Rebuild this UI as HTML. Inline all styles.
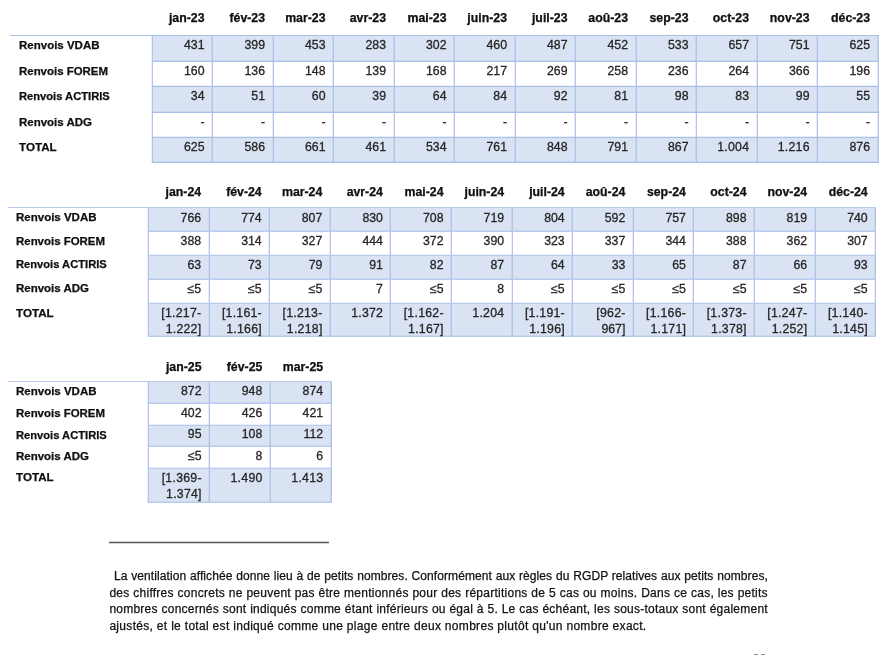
<!DOCTYPE html>
<html><head><meta charset="utf-8"><style>
html,body{margin:0;padding:0;background:#fff;}
body{width:889px;height:655px;position:relative;overflow:hidden;font-family:"Liberation Sans",sans-serif;color:#000;}
#w{position:absolute;left:0;top:0;width:889px;height:655px;will-change:transform;}
.b{position:absolute;}
.t{position:absolute;white-space:pre;color:#111;}
.f{color:#111;-webkit-text-stroke:0.25px #111;}
</style></head><body><div id="w">
<div class="b" style="left:151.5px;top:35px;width:726.0px;height:26px;background:#dae3f3"></div>
<div class="b" style="left:151.5px;top:86px;width:726.0px;height:26px;background:#dae3f3"></div>
<div class="b" style="left:151.5px;top:137px;width:726.0px;height:25px;background:#dae3f3"></div>
<div class="b" style="left:152px;top:35px;width:1px;height:128px;background:#b3c6e8"></div>
<div class="b" style="left:151px;top:35px;width:1px;height:128px;background:rgba(120,150,215,0.18)"></div>
<div class="b" style="left:212px;top:35px;width:1px;height:128px;background:#b3c6e8"></div>
<div class="b" style="left:211px;top:35px;width:1px;height:128px;background:rgba(120,150,215,0.18)"></div>
<div class="b" style="left:273px;top:35px;width:1px;height:128px;background:#b3c6e8"></div>
<div class="b" style="left:272px;top:35px;width:1px;height:128px;background:rgba(120,150,215,0.18)"></div>
<div class="b" style="left:333px;top:35px;width:1px;height:128px;background:#b3c6e8"></div>
<div class="b" style="left:332px;top:35px;width:1px;height:128px;background:rgba(120,150,215,0.18)"></div>
<div class="b" style="left:394px;top:35px;width:1px;height:128px;background:#b3c6e8"></div>
<div class="b" style="left:393px;top:35px;width:1px;height:128px;background:rgba(120,150,215,0.18)"></div>
<div class="b" style="left:454px;top:35px;width:1px;height:128px;background:#b3c6e8"></div>
<div class="b" style="left:453px;top:35px;width:1px;height:128px;background:rgba(120,150,215,0.18)"></div>
<div class="b" style="left:515px;top:35px;width:1px;height:128px;background:#b3c6e8"></div>
<div class="b" style="left:514px;top:35px;width:1px;height:128px;background:rgba(120,150,215,0.18)"></div>
<div class="b" style="left:575px;top:35px;width:1px;height:128px;background:#b3c6e8"></div>
<div class="b" style="left:574px;top:35px;width:1px;height:128px;background:rgba(120,150,215,0.18)"></div>
<div class="b" style="left:636px;top:35px;width:1px;height:128px;background:#b3c6e8"></div>
<div class="b" style="left:635px;top:35px;width:1px;height:128px;background:rgba(120,150,215,0.18)"></div>
<div class="b" style="left:696px;top:35px;width:1px;height:128px;background:#b3c6e8"></div>
<div class="b" style="left:695px;top:35px;width:1px;height:128px;background:rgba(120,150,215,0.18)"></div>
<div class="b" style="left:757px;top:35px;width:1px;height:128px;background:#b3c6e8"></div>
<div class="b" style="left:756px;top:35px;width:1px;height:128px;background:rgba(120,150,215,0.18)"></div>
<div class="b" style="left:817px;top:35px;width:1px;height:128px;background:#b3c6e8"></div>
<div class="b" style="left:816px;top:35px;width:1px;height:128px;background:rgba(120,150,215,0.18)"></div>
<div class="b" style="left:878px;top:35px;width:1px;height:128px;background:#b3c6e8"></div>
<div class="b" style="left:877px;top:35px;width:1px;height:128px;background:rgba(120,150,215,0.18)"></div>
<div class="b" style="left:10px;top:35px;width:868.5px;height:1px;background:#a9bfe6"></div>
<div class="b" style="left:151.5px;top:61px;width:727.0px;height:1px;background:#a9bfe6"></div>
<div class="b" style="left:151.5px;top:60px;width:727.0px;height:1px;background:rgba(120,150,215,0.15)"></div>
<div class="b" style="left:151.5px;top:86px;width:727.0px;height:1px;background:#a9bfe6"></div>
<div class="b" style="left:151.5px;top:85px;width:727.0px;height:1px;background:rgba(120,150,215,0.15)"></div>
<div class="b" style="left:151.5px;top:112px;width:727.0px;height:1px;background:#a9bfe6"></div>
<div class="b" style="left:151.5px;top:111px;width:727.0px;height:1px;background:rgba(120,150,215,0.15)"></div>
<div class="b" style="left:151.5px;top:137px;width:727.0px;height:1px;background:#a9bfe6"></div>
<div class="b" style="left:151.5px;top:136px;width:727.0px;height:1px;background:rgba(120,150,215,0.15)"></div>
<div class="b" style="left:151.5px;top:162px;width:727.0px;height:1px;background:#a9bfe6"></div>
<div class="b" style="left:151.5px;top:161px;width:727.0px;height:1px;background:rgba(120,150,215,0.15)"></div>
<div class="t" style="right:684.50px;top:11.36px;font-size:12.3px;line-height:14.76px;letter-spacing:0px;font-weight:bold;-webkit-text-stroke:0.25px #000;">jan-23</div>
<div class="t" style="right:624.00px;top:11.36px;font-size:12.3px;line-height:14.76px;letter-spacing:0px;font-weight:bold;-webkit-text-stroke:0.25px #000;">fév-23</div>
<div class="t" style="right:563.50px;top:11.36px;font-size:12.3px;line-height:14.76px;letter-spacing:0px;font-weight:bold;-webkit-text-stroke:0.25px #000;">mar-23</div>
<div class="t" style="right:503.00px;top:11.36px;font-size:12.3px;line-height:14.76px;letter-spacing:0px;font-weight:bold;-webkit-text-stroke:0.25px #000;">avr-23</div>
<div class="t" style="right:442.50px;top:11.36px;font-size:12.3px;line-height:14.76px;letter-spacing:0px;font-weight:bold;-webkit-text-stroke:0.25px #000;">mai-23</div>
<div class="t" style="right:382.00px;top:11.36px;font-size:12.3px;line-height:14.76px;letter-spacing:0px;font-weight:bold;-webkit-text-stroke:0.25px #000;">juin-23</div>
<div class="t" style="right:321.50px;top:11.36px;font-size:12.3px;line-height:14.76px;letter-spacing:0px;font-weight:bold;-webkit-text-stroke:0.25px #000;">juil-23</div>
<div class="t" style="right:261.00px;top:11.36px;font-size:12.3px;line-height:14.76px;letter-spacing:0px;font-weight:bold;-webkit-text-stroke:0.25px #000;">aoû-23</div>
<div class="t" style="right:200.50px;top:11.36px;font-size:12.3px;line-height:14.76px;letter-spacing:0px;font-weight:bold;-webkit-text-stroke:0.25px #000;">sep-23</div>
<div class="t" style="right:140.00px;top:11.36px;font-size:12.3px;line-height:14.76px;letter-spacing:0px;font-weight:bold;-webkit-text-stroke:0.25px #000;">oct-23</div>
<div class="t" style="right:79.50px;top:11.36px;font-size:12.3px;line-height:14.76px;letter-spacing:0px;font-weight:bold;-webkit-text-stroke:0.25px #000;">nov-23</div>
<div class="t" style="right:19.00px;top:11.36px;font-size:12.3px;line-height:14.76px;letter-spacing:0px;font-weight:bold;-webkit-text-stroke:0.25px #000;">déc-23</div>
<div class="t" style="left:19.3px;top:38.13px;font-size:11.8px;line-height:14.16px;letter-spacing:0px;font-weight:bold;-webkit-text-stroke:0.25px #000;transform:scaleX(0.975);transform-origin:0 0;">Renvois VDAB</div>
<div class="t" style="left:19.3px;top:64.03px;font-size:11.8px;line-height:14.16px;letter-spacing:0px;font-weight:bold;-webkit-text-stroke:0.25px #000;transform:scaleX(0.97);transform-origin:0 0;">Renvois FOREM</div>
<div class="t" style="left:19.3px;top:89.43px;font-size:11.8px;line-height:14.16px;letter-spacing:0px;font-weight:bold;-webkit-text-stroke:0.25px #000;transform:scaleX(0.946);transform-origin:0 0;">Renvois ACTIRIS</div>
<div class="t" style="left:19.3px;top:114.63px;font-size:11.8px;line-height:14.16px;letter-spacing:0px;font-weight:bold;-webkit-text-stroke:0.25px #000;transform:scaleX(0.974);transform-origin:0 0;">Renvois ADG</div>
<div class="t" style="left:19.3px;top:140.03px;font-size:11.8px;line-height:14.16px;letter-spacing:0px;font-weight:bold;-webkit-text-stroke:0.25px #000;transform:scaleX(0.985);transform-origin:0 0;">TOTAL</div>
<div class="t" style="right:684.50px;top:37.66px;font-size:12.3px;line-height:14.76px;letter-spacing:0px;color:#262626;-webkit-text-stroke:0.3px #262626;">431</div>
<div class="t" style="right:624.00px;top:37.66px;font-size:12.3px;line-height:14.76px;letter-spacing:0px;color:#262626;-webkit-text-stroke:0.3px #262626;">399</div>
<div class="t" style="right:563.50px;top:37.66px;font-size:12.3px;line-height:14.76px;letter-spacing:0px;color:#262626;-webkit-text-stroke:0.3px #262626;">453</div>
<div class="t" style="right:503.00px;top:37.66px;font-size:12.3px;line-height:14.76px;letter-spacing:0px;color:#262626;-webkit-text-stroke:0.3px #262626;">283</div>
<div class="t" style="right:442.50px;top:37.66px;font-size:12.3px;line-height:14.76px;letter-spacing:0px;color:#262626;-webkit-text-stroke:0.3px #262626;">302</div>
<div class="t" style="right:382.00px;top:37.66px;font-size:12.3px;line-height:14.76px;letter-spacing:0px;color:#262626;-webkit-text-stroke:0.3px #262626;">460</div>
<div class="t" style="right:321.50px;top:37.66px;font-size:12.3px;line-height:14.76px;letter-spacing:0px;color:#262626;-webkit-text-stroke:0.3px #262626;">487</div>
<div class="t" style="right:261.00px;top:37.66px;font-size:12.3px;line-height:14.76px;letter-spacing:0px;color:#262626;-webkit-text-stroke:0.3px #262626;">452</div>
<div class="t" style="right:200.50px;top:37.66px;font-size:12.3px;line-height:14.76px;letter-spacing:0px;color:#262626;-webkit-text-stroke:0.3px #262626;">533</div>
<div class="t" style="right:140.00px;top:37.66px;font-size:12.3px;line-height:14.76px;letter-spacing:0px;color:#262626;-webkit-text-stroke:0.3px #262626;">657</div>
<div class="t" style="right:79.50px;top:37.66px;font-size:12.3px;line-height:14.76px;letter-spacing:0px;color:#262626;-webkit-text-stroke:0.3px #262626;">751</div>
<div class="t" style="right:19.00px;top:37.66px;font-size:12.3px;line-height:14.76px;letter-spacing:0px;color:#262626;-webkit-text-stroke:0.3px #262626;">625</div>
<div class="t" style="right:684.50px;top:63.56px;font-size:12.3px;line-height:14.76px;letter-spacing:0px;color:#262626;-webkit-text-stroke:0.3px #262626;">160</div>
<div class="t" style="right:624.00px;top:63.56px;font-size:12.3px;line-height:14.76px;letter-spacing:0px;color:#262626;-webkit-text-stroke:0.3px #262626;">136</div>
<div class="t" style="right:563.50px;top:63.56px;font-size:12.3px;line-height:14.76px;letter-spacing:0px;color:#262626;-webkit-text-stroke:0.3px #262626;">148</div>
<div class="t" style="right:503.00px;top:63.56px;font-size:12.3px;line-height:14.76px;letter-spacing:0px;color:#262626;-webkit-text-stroke:0.3px #262626;">139</div>
<div class="t" style="right:442.50px;top:63.56px;font-size:12.3px;line-height:14.76px;letter-spacing:0px;color:#262626;-webkit-text-stroke:0.3px #262626;">168</div>
<div class="t" style="right:382.00px;top:63.56px;font-size:12.3px;line-height:14.76px;letter-spacing:0px;color:#262626;-webkit-text-stroke:0.3px #262626;">217</div>
<div class="t" style="right:321.50px;top:63.56px;font-size:12.3px;line-height:14.76px;letter-spacing:0px;color:#262626;-webkit-text-stroke:0.3px #262626;">269</div>
<div class="t" style="right:261.00px;top:63.56px;font-size:12.3px;line-height:14.76px;letter-spacing:0px;color:#262626;-webkit-text-stroke:0.3px #262626;">258</div>
<div class="t" style="right:200.50px;top:63.56px;font-size:12.3px;line-height:14.76px;letter-spacing:0px;color:#262626;-webkit-text-stroke:0.3px #262626;">236</div>
<div class="t" style="right:140.00px;top:63.56px;font-size:12.3px;line-height:14.76px;letter-spacing:0px;color:#262626;-webkit-text-stroke:0.3px #262626;">264</div>
<div class="t" style="right:79.50px;top:63.56px;font-size:12.3px;line-height:14.76px;letter-spacing:0px;color:#262626;-webkit-text-stroke:0.3px #262626;">366</div>
<div class="t" style="right:19.00px;top:63.56px;font-size:12.3px;line-height:14.76px;letter-spacing:0px;color:#262626;-webkit-text-stroke:0.3px #262626;">196</div>
<div class="t" style="right:684.50px;top:88.96px;font-size:12.3px;line-height:14.76px;letter-spacing:0px;color:#262626;-webkit-text-stroke:0.3px #262626;">34</div>
<div class="t" style="right:624.00px;top:88.96px;font-size:12.3px;line-height:14.76px;letter-spacing:0px;color:#262626;-webkit-text-stroke:0.3px #262626;">51</div>
<div class="t" style="right:563.50px;top:88.96px;font-size:12.3px;line-height:14.76px;letter-spacing:0px;color:#262626;-webkit-text-stroke:0.3px #262626;">60</div>
<div class="t" style="right:503.00px;top:88.96px;font-size:12.3px;line-height:14.76px;letter-spacing:0px;color:#262626;-webkit-text-stroke:0.3px #262626;">39</div>
<div class="t" style="right:442.50px;top:88.96px;font-size:12.3px;line-height:14.76px;letter-spacing:0px;color:#262626;-webkit-text-stroke:0.3px #262626;">64</div>
<div class="t" style="right:382.00px;top:88.96px;font-size:12.3px;line-height:14.76px;letter-spacing:0px;color:#262626;-webkit-text-stroke:0.3px #262626;">84</div>
<div class="t" style="right:321.50px;top:88.96px;font-size:12.3px;line-height:14.76px;letter-spacing:0px;color:#262626;-webkit-text-stroke:0.3px #262626;">92</div>
<div class="t" style="right:261.00px;top:88.96px;font-size:12.3px;line-height:14.76px;letter-spacing:0px;color:#262626;-webkit-text-stroke:0.3px #262626;">81</div>
<div class="t" style="right:200.50px;top:88.96px;font-size:12.3px;line-height:14.76px;letter-spacing:0px;color:#262626;-webkit-text-stroke:0.3px #262626;">98</div>
<div class="t" style="right:140.00px;top:88.96px;font-size:12.3px;line-height:14.76px;letter-spacing:0px;color:#262626;-webkit-text-stroke:0.3px #262626;">83</div>
<div class="t" style="right:79.50px;top:88.96px;font-size:12.3px;line-height:14.76px;letter-spacing:0px;color:#262626;-webkit-text-stroke:0.3px #262626;">99</div>
<div class="t" style="right:19.00px;top:88.96px;font-size:12.3px;line-height:14.76px;letter-spacing:0px;color:#262626;-webkit-text-stroke:0.3px #262626;">55</div>
<div class="t" style="right:684.50px;top:115.16px;font-size:12.3px;line-height:14.76px;letter-spacing:0px;color:#262626;-webkit-text-stroke:0.3px #262626;">-</div>
<div class="t" style="right:624.00px;top:115.16px;font-size:12.3px;line-height:14.76px;letter-spacing:0px;color:#262626;-webkit-text-stroke:0.3px #262626;">-</div>
<div class="t" style="right:563.50px;top:115.16px;font-size:12.3px;line-height:14.76px;letter-spacing:0px;color:#262626;-webkit-text-stroke:0.3px #262626;">-</div>
<div class="t" style="right:503.00px;top:115.16px;font-size:12.3px;line-height:14.76px;letter-spacing:0px;color:#262626;-webkit-text-stroke:0.3px #262626;">-</div>
<div class="t" style="right:442.50px;top:115.16px;font-size:12.3px;line-height:14.76px;letter-spacing:0px;color:#262626;-webkit-text-stroke:0.3px #262626;">-</div>
<div class="t" style="right:382.00px;top:115.16px;font-size:12.3px;line-height:14.76px;letter-spacing:0px;color:#262626;-webkit-text-stroke:0.3px #262626;">-</div>
<div class="t" style="right:321.50px;top:115.16px;font-size:12.3px;line-height:14.76px;letter-spacing:0px;color:#262626;-webkit-text-stroke:0.3px #262626;">-</div>
<div class="t" style="right:261.00px;top:115.16px;font-size:12.3px;line-height:14.76px;letter-spacing:0px;color:#262626;-webkit-text-stroke:0.3px #262626;">-</div>
<div class="t" style="right:200.50px;top:115.16px;font-size:12.3px;line-height:14.76px;letter-spacing:0px;color:#262626;-webkit-text-stroke:0.3px #262626;">-</div>
<div class="t" style="right:140.00px;top:115.16px;font-size:12.3px;line-height:14.76px;letter-spacing:0px;color:#262626;-webkit-text-stroke:0.3px #262626;">-</div>
<div class="t" style="right:79.50px;top:115.16px;font-size:12.3px;line-height:14.76px;letter-spacing:0px;color:#262626;-webkit-text-stroke:0.3px #262626;">-</div>
<div class="t" style="right:19.00px;top:115.16px;font-size:12.3px;line-height:14.76px;letter-spacing:0px;color:#262626;-webkit-text-stroke:0.3px #262626;">-</div>
<div class="t" style="right:684.50px;top:139.56px;font-size:12.3px;line-height:14.76px;letter-spacing:0px;color:#262626;-webkit-text-stroke:0.3px #262626;">625</div>
<div class="t" style="right:624.00px;top:139.56px;font-size:12.3px;line-height:14.76px;letter-spacing:0px;color:#262626;-webkit-text-stroke:0.3px #262626;">586</div>
<div class="t" style="right:563.50px;top:139.56px;font-size:12.3px;line-height:14.76px;letter-spacing:0px;color:#262626;-webkit-text-stroke:0.3px #262626;">661</div>
<div class="t" style="right:503.00px;top:139.56px;font-size:12.3px;line-height:14.76px;letter-spacing:0px;color:#262626;-webkit-text-stroke:0.3px #262626;">461</div>
<div class="t" style="right:442.50px;top:139.56px;font-size:12.3px;line-height:14.76px;letter-spacing:0px;color:#262626;-webkit-text-stroke:0.3px #262626;">534</div>
<div class="t" style="right:382.00px;top:139.56px;font-size:12.3px;line-height:14.76px;letter-spacing:0px;color:#262626;-webkit-text-stroke:0.3px #262626;">761</div>
<div class="t" style="right:321.50px;top:139.56px;font-size:12.3px;line-height:14.76px;letter-spacing:0px;color:#262626;-webkit-text-stroke:0.3px #262626;">848</div>
<div class="t" style="right:261.00px;top:139.56px;font-size:12.3px;line-height:14.76px;letter-spacing:0px;color:#262626;-webkit-text-stroke:0.3px #262626;">791</div>
<div class="t" style="right:200.50px;top:139.56px;font-size:12.3px;line-height:14.76px;letter-spacing:0px;color:#262626;-webkit-text-stroke:0.3px #262626;">867</div>
<div class="t" style="right:139.75px;top:139.56px;font-size:12.3px;line-height:14.76px;letter-spacing:0.25px;color:#262626;-webkit-text-stroke:0.3px #262626;">1.004</div>
<div class="t" style="right:79.25px;top:139.56px;font-size:12.3px;line-height:14.76px;letter-spacing:0.25px;color:#262626;-webkit-text-stroke:0.3px #262626;">1.216</div>
<div class="t" style="right:19.00px;top:139.56px;font-size:12.3px;line-height:14.76px;letter-spacing:0px;color:#262626;-webkit-text-stroke:0.3px #262626;">876</div>
<div class="b" style="left:148px;top:207px;width:727.2px;height:24px;background:#dae3f3"></div>
<div class="b" style="left:148px;top:255px;width:727.2px;height:24px;background:#dae3f3"></div>
<div class="b" style="left:148px;top:303px;width:727.2px;height:33px;background:#dae3f3"></div>
<div class="b" style="left:148px;top:207px;width:1px;height:130px;background:#b3c6e8"></div>
<div class="b" style="left:147px;top:207px;width:1px;height:130px;background:rgba(120,150,215,0.18)"></div>
<div class="b" style="left:209px;top:207px;width:1px;height:130px;background:#b3c6e8"></div>
<div class="b" style="left:208px;top:207px;width:1px;height:130px;background:rgba(120,150,215,0.18)"></div>
<div class="b" style="left:269px;top:207px;width:1px;height:130px;background:#b3c6e8"></div>
<div class="b" style="left:268px;top:207px;width:1px;height:130px;background:rgba(120,150,215,0.18)"></div>
<div class="b" style="left:330px;top:207px;width:1px;height:130px;background:#b3c6e8"></div>
<div class="b" style="left:329px;top:207px;width:1px;height:130px;background:rgba(120,150,215,0.18)"></div>
<div class="b" style="left:390px;top:207px;width:1px;height:130px;background:#b3c6e8"></div>
<div class="b" style="left:389px;top:207px;width:1px;height:130px;background:rgba(120,150,215,0.18)"></div>
<div class="b" style="left:451px;top:207px;width:1px;height:130px;background:#b3c6e8"></div>
<div class="b" style="left:450px;top:207px;width:1px;height:130px;background:rgba(120,150,215,0.18)"></div>
<div class="b" style="left:512px;top:207px;width:1px;height:130px;background:#b3c6e8"></div>
<div class="b" style="left:511px;top:207px;width:1px;height:130px;background:rgba(120,150,215,0.18)"></div>
<div class="b" style="left:572px;top:207px;width:1px;height:130px;background:#b3c6e8"></div>
<div class="b" style="left:571px;top:207px;width:1px;height:130px;background:rgba(120,150,215,0.18)"></div>
<div class="b" style="left:633px;top:207px;width:1px;height:130px;background:#b3c6e8"></div>
<div class="b" style="left:632px;top:207px;width:1px;height:130px;background:rgba(120,150,215,0.18)"></div>
<div class="b" style="left:693px;top:207px;width:1px;height:130px;background:#b3c6e8"></div>
<div class="b" style="left:692px;top:207px;width:1px;height:130px;background:rgba(120,150,215,0.18)"></div>
<div class="b" style="left:754px;top:207px;width:1px;height:130px;background:#b3c6e8"></div>
<div class="b" style="left:753px;top:207px;width:1px;height:130px;background:rgba(120,150,215,0.18)"></div>
<div class="b" style="left:815px;top:207px;width:1px;height:130px;background:#b3c6e8"></div>
<div class="b" style="left:814px;top:207px;width:1px;height:130px;background:rgba(120,150,215,0.18)"></div>
<div class="b" style="left:875px;top:207px;width:1px;height:130px;background:#b3c6e8"></div>
<div class="b" style="left:874px;top:207px;width:1px;height:130px;background:rgba(120,150,215,0.18)"></div>
<div class="b" style="left:8px;top:207px;width:868.2px;height:1px;background:#b9cbec"></div>
<div class="b" style="left:148px;top:231px;width:728.2px;height:1px;background:#b9cbec"></div>
<div class="b" style="left:148px;top:230px;width:728.2px;height:1px;background:rgba(120,150,215,0.15)"></div>
<div class="b" style="left:148px;top:255px;width:728.2px;height:1px;background:#b9cbec"></div>
<div class="b" style="left:148px;top:254px;width:728.2px;height:1px;background:rgba(120,150,215,0.15)"></div>
<div class="b" style="left:148px;top:279px;width:728.2px;height:1px;background:#b9cbec"></div>
<div class="b" style="left:148px;top:278px;width:728.2px;height:1px;background:rgba(120,150,215,0.15)"></div>
<div class="b" style="left:148px;top:303px;width:728.2px;height:1px;background:#b9cbec"></div>
<div class="b" style="left:148px;top:302px;width:728.2px;height:1px;background:rgba(120,150,215,0.15)"></div>
<div class="b" style="left:148px;top:336px;width:728.2px;height:1px;background:#b9cbec"></div>
<div class="b" style="left:148px;top:335px;width:728.2px;height:1px;background:rgba(120,150,215,0.15)"></div>
<div class="t" style="right:687.90px;top:184.96px;font-size:12.3px;line-height:14.76px;letter-spacing:0px;font-weight:bold;-webkit-text-stroke:0.25px #000;">jan-24</div>
<div class="t" style="right:627.30px;top:184.96px;font-size:12.3px;line-height:14.76px;letter-spacing:0px;font-weight:bold;-webkit-text-stroke:0.25px #000;">fév-24</div>
<div class="t" style="right:566.70px;top:184.96px;font-size:12.3px;line-height:14.76px;letter-spacing:0px;font-weight:bold;-webkit-text-stroke:0.25px #000;">mar-24</div>
<div class="t" style="right:506.10px;top:184.96px;font-size:12.3px;line-height:14.76px;letter-spacing:0px;font-weight:bold;-webkit-text-stroke:0.25px #000;">avr-24</div>
<div class="t" style="right:445.50px;top:184.96px;font-size:12.3px;line-height:14.76px;letter-spacing:0px;font-weight:bold;-webkit-text-stroke:0.25px #000;">mai-24</div>
<div class="t" style="right:384.90px;top:184.96px;font-size:12.3px;line-height:14.76px;letter-spacing:0px;font-weight:bold;-webkit-text-stroke:0.25px #000;">juin-24</div>
<div class="t" style="right:324.30px;top:184.96px;font-size:12.3px;line-height:14.76px;letter-spacing:0px;font-weight:bold;-webkit-text-stroke:0.25px #000;">juil-24</div>
<div class="t" style="right:263.70px;top:184.96px;font-size:12.3px;line-height:14.76px;letter-spacing:0px;font-weight:bold;-webkit-text-stroke:0.25px #000;">aoû-24</div>
<div class="t" style="right:203.10px;top:184.96px;font-size:12.3px;line-height:14.76px;letter-spacing:0px;font-weight:bold;-webkit-text-stroke:0.25px #000;">sep-24</div>
<div class="t" style="right:142.50px;top:184.96px;font-size:12.3px;line-height:14.76px;letter-spacing:0px;font-weight:bold;-webkit-text-stroke:0.25px #000;">oct-24</div>
<div class="t" style="right:81.90px;top:184.96px;font-size:12.3px;line-height:14.76px;letter-spacing:0px;font-weight:bold;-webkit-text-stroke:0.25px #000;">nov-24</div>
<div class="t" style="right:21.30px;top:184.96px;font-size:12.3px;line-height:14.76px;letter-spacing:0px;font-weight:bold;-webkit-text-stroke:0.25px #000;">déc-24</div>
<div class="t" style="left:15.8px;top:210.23px;font-size:11.8px;line-height:14.16px;letter-spacing:0px;font-weight:bold;-webkit-text-stroke:0.25px #000;transform:scaleX(0.975);transform-origin:0 0;">Renvois VDAB</div>
<div class="t" style="left:15.8px;top:233.93px;font-size:11.8px;line-height:14.16px;letter-spacing:0px;font-weight:bold;-webkit-text-stroke:0.25px #000;transform:scaleX(0.97);transform-origin:0 0;">Renvois FOREM</div>
<div class="t" style="left:15.8px;top:257.33px;font-size:11.8px;line-height:14.16px;letter-spacing:0px;font-weight:bold;-webkit-text-stroke:0.25px #000;transform:scaleX(0.946);transform-origin:0 0;">Renvois ACTIRIS</div>
<div class="t" style="left:15.8px;top:281.33px;font-size:11.8px;line-height:14.16px;letter-spacing:0px;font-weight:bold;-webkit-text-stroke:0.25px #000;transform:scaleX(0.974);transform-origin:0 0;">Renvois ADG</div>
<div class="t" style="left:15.8px;top:305.63px;font-size:11.8px;line-height:14.16px;letter-spacing:0px;font-weight:bold;-webkit-text-stroke:0.25px #000;transform:scaleX(0.985);transform-origin:0 0;">TOTAL</div>
<div class="t" style="right:687.90px;top:210.76px;font-size:12.3px;line-height:14.76px;letter-spacing:0px;color:#262626;-webkit-text-stroke:0.3px #262626;">766</div>
<div class="t" style="right:627.30px;top:210.76px;font-size:12.3px;line-height:14.76px;letter-spacing:0px;color:#262626;-webkit-text-stroke:0.3px #262626;">774</div>
<div class="t" style="right:566.70px;top:210.76px;font-size:12.3px;line-height:14.76px;letter-spacing:0px;color:#262626;-webkit-text-stroke:0.3px #262626;">807</div>
<div class="t" style="right:506.10px;top:210.76px;font-size:12.3px;line-height:14.76px;letter-spacing:0px;color:#262626;-webkit-text-stroke:0.3px #262626;">830</div>
<div class="t" style="right:445.50px;top:210.76px;font-size:12.3px;line-height:14.76px;letter-spacing:0px;color:#262626;-webkit-text-stroke:0.3px #262626;">708</div>
<div class="t" style="right:384.90px;top:210.76px;font-size:12.3px;line-height:14.76px;letter-spacing:0px;color:#262626;-webkit-text-stroke:0.3px #262626;">719</div>
<div class="t" style="right:324.30px;top:210.76px;font-size:12.3px;line-height:14.76px;letter-spacing:0px;color:#262626;-webkit-text-stroke:0.3px #262626;">804</div>
<div class="t" style="right:263.70px;top:210.76px;font-size:12.3px;line-height:14.76px;letter-spacing:0px;color:#262626;-webkit-text-stroke:0.3px #262626;">592</div>
<div class="t" style="right:203.10px;top:210.76px;font-size:12.3px;line-height:14.76px;letter-spacing:0px;color:#262626;-webkit-text-stroke:0.3px #262626;">757</div>
<div class="t" style="right:142.50px;top:210.76px;font-size:12.3px;line-height:14.76px;letter-spacing:0px;color:#262626;-webkit-text-stroke:0.3px #262626;">898</div>
<div class="t" style="right:81.90px;top:210.76px;font-size:12.3px;line-height:14.76px;letter-spacing:0px;color:#262626;-webkit-text-stroke:0.3px #262626;">819</div>
<div class="t" style="right:21.30px;top:210.76px;font-size:12.3px;line-height:14.76px;letter-spacing:0px;color:#262626;-webkit-text-stroke:0.3px #262626;">740</div>
<div class="t" style="right:687.90px;top:234.46px;font-size:12.3px;line-height:14.76px;letter-spacing:0px;color:#262626;-webkit-text-stroke:0.3px #262626;">388</div>
<div class="t" style="right:627.30px;top:234.46px;font-size:12.3px;line-height:14.76px;letter-spacing:0px;color:#262626;-webkit-text-stroke:0.3px #262626;">314</div>
<div class="t" style="right:566.70px;top:234.46px;font-size:12.3px;line-height:14.76px;letter-spacing:0px;color:#262626;-webkit-text-stroke:0.3px #262626;">327</div>
<div class="t" style="right:506.10px;top:234.46px;font-size:12.3px;line-height:14.76px;letter-spacing:0px;color:#262626;-webkit-text-stroke:0.3px #262626;">444</div>
<div class="t" style="right:445.50px;top:234.46px;font-size:12.3px;line-height:14.76px;letter-spacing:0px;color:#262626;-webkit-text-stroke:0.3px #262626;">372</div>
<div class="t" style="right:384.90px;top:234.46px;font-size:12.3px;line-height:14.76px;letter-spacing:0px;color:#262626;-webkit-text-stroke:0.3px #262626;">390</div>
<div class="t" style="right:324.30px;top:234.46px;font-size:12.3px;line-height:14.76px;letter-spacing:0px;color:#262626;-webkit-text-stroke:0.3px #262626;">323</div>
<div class="t" style="right:263.70px;top:234.46px;font-size:12.3px;line-height:14.76px;letter-spacing:0px;color:#262626;-webkit-text-stroke:0.3px #262626;">337</div>
<div class="t" style="right:203.10px;top:234.46px;font-size:12.3px;line-height:14.76px;letter-spacing:0px;color:#262626;-webkit-text-stroke:0.3px #262626;">344</div>
<div class="t" style="right:142.50px;top:234.46px;font-size:12.3px;line-height:14.76px;letter-spacing:0px;color:#262626;-webkit-text-stroke:0.3px #262626;">388</div>
<div class="t" style="right:81.90px;top:234.46px;font-size:12.3px;line-height:14.76px;letter-spacing:0px;color:#262626;-webkit-text-stroke:0.3px #262626;">362</div>
<div class="t" style="right:21.30px;top:234.46px;font-size:12.3px;line-height:14.76px;letter-spacing:0px;color:#262626;-webkit-text-stroke:0.3px #262626;">307</div>
<div class="t" style="right:687.90px;top:257.76px;font-size:12.3px;line-height:14.76px;letter-spacing:0px;color:#262626;-webkit-text-stroke:0.3px #262626;">63</div>
<div class="t" style="right:627.30px;top:257.76px;font-size:12.3px;line-height:14.76px;letter-spacing:0px;color:#262626;-webkit-text-stroke:0.3px #262626;">73</div>
<div class="t" style="right:566.70px;top:257.76px;font-size:12.3px;line-height:14.76px;letter-spacing:0px;color:#262626;-webkit-text-stroke:0.3px #262626;">79</div>
<div class="t" style="right:506.10px;top:257.76px;font-size:12.3px;line-height:14.76px;letter-spacing:0px;color:#262626;-webkit-text-stroke:0.3px #262626;">91</div>
<div class="t" style="right:445.50px;top:257.76px;font-size:12.3px;line-height:14.76px;letter-spacing:0px;color:#262626;-webkit-text-stroke:0.3px #262626;">82</div>
<div class="t" style="right:384.90px;top:257.76px;font-size:12.3px;line-height:14.76px;letter-spacing:0px;color:#262626;-webkit-text-stroke:0.3px #262626;">87</div>
<div class="t" style="right:324.30px;top:257.76px;font-size:12.3px;line-height:14.76px;letter-spacing:0px;color:#262626;-webkit-text-stroke:0.3px #262626;">64</div>
<div class="t" style="right:263.70px;top:257.76px;font-size:12.3px;line-height:14.76px;letter-spacing:0px;color:#262626;-webkit-text-stroke:0.3px #262626;">33</div>
<div class="t" style="right:203.10px;top:257.76px;font-size:12.3px;line-height:14.76px;letter-spacing:0px;color:#262626;-webkit-text-stroke:0.3px #262626;">65</div>
<div class="t" style="right:142.50px;top:257.76px;font-size:12.3px;line-height:14.76px;letter-spacing:0px;color:#262626;-webkit-text-stroke:0.3px #262626;">87</div>
<div class="t" style="right:81.90px;top:257.76px;font-size:12.3px;line-height:14.76px;letter-spacing:0px;color:#262626;-webkit-text-stroke:0.3px #262626;">66</div>
<div class="t" style="right:21.30px;top:257.76px;font-size:12.3px;line-height:14.76px;letter-spacing:0px;color:#262626;-webkit-text-stroke:0.3px #262626;">93</div>
<div class="t" style="right:687.90px;top:281.86px;font-size:12.3px;line-height:14.76px;letter-spacing:0px;color:#262626;-webkit-text-stroke:0.3px #262626;">≤5</div>
<div class="t" style="right:627.30px;top:281.86px;font-size:12.3px;line-height:14.76px;letter-spacing:0px;color:#262626;-webkit-text-stroke:0.3px #262626;">≤5</div>
<div class="t" style="right:566.70px;top:281.86px;font-size:12.3px;line-height:14.76px;letter-spacing:0px;color:#262626;-webkit-text-stroke:0.3px #262626;">≤5</div>
<div class="t" style="right:506.10px;top:281.86px;font-size:12.3px;line-height:14.76px;letter-spacing:0px;color:#262626;-webkit-text-stroke:0.3px #262626;">7</div>
<div class="t" style="right:445.50px;top:281.86px;font-size:12.3px;line-height:14.76px;letter-spacing:0px;color:#262626;-webkit-text-stroke:0.3px #262626;">≤5</div>
<div class="t" style="right:384.90px;top:281.86px;font-size:12.3px;line-height:14.76px;letter-spacing:0px;color:#262626;-webkit-text-stroke:0.3px #262626;">8</div>
<div class="t" style="right:324.30px;top:281.86px;font-size:12.3px;line-height:14.76px;letter-spacing:0px;color:#262626;-webkit-text-stroke:0.3px #262626;">≤5</div>
<div class="t" style="right:263.70px;top:281.86px;font-size:12.3px;line-height:14.76px;letter-spacing:0px;color:#262626;-webkit-text-stroke:0.3px #262626;">≤5</div>
<div class="t" style="right:203.10px;top:281.86px;font-size:12.3px;line-height:14.76px;letter-spacing:0px;color:#262626;-webkit-text-stroke:0.3px #262626;">≤5</div>
<div class="t" style="right:142.50px;top:281.86px;font-size:12.3px;line-height:14.76px;letter-spacing:0px;color:#262626;-webkit-text-stroke:0.3px #262626;">≤5</div>
<div class="t" style="right:81.90px;top:281.86px;font-size:12.3px;line-height:14.76px;letter-spacing:0px;color:#262626;-webkit-text-stroke:0.3px #262626;">≤5</div>
<div class="t" style="right:21.30px;top:281.86px;font-size:12.3px;line-height:14.76px;letter-spacing:0px;color:#262626;-webkit-text-stroke:0.3px #262626;">≤5</div>
<div class="t" style="right:687.65px;top:305.66px;font-size:12.3px;line-height:14.76px;letter-spacing:0.25px;color:#262626;-webkit-text-stroke:0.3px #262626;">[1.217-</div>
<div class="t" style="right:687.65px;top:321.86px;font-size:12.3px;line-height:14.76px;letter-spacing:0.25px;color:#262626;-webkit-text-stroke:0.3px #262626;">1.222]</div>
<div class="t" style="right:627.05px;top:305.66px;font-size:12.3px;line-height:14.76px;letter-spacing:0.25px;color:#262626;-webkit-text-stroke:0.3px #262626;">[1.161-</div>
<div class="t" style="right:627.05px;top:321.86px;font-size:12.3px;line-height:14.76px;letter-spacing:0.25px;color:#262626;-webkit-text-stroke:0.3px #262626;">1.166]</div>
<div class="t" style="right:566.45px;top:305.66px;font-size:12.3px;line-height:14.76px;letter-spacing:0.25px;color:#262626;-webkit-text-stroke:0.3px #262626;">[1.213-</div>
<div class="t" style="right:566.45px;top:321.86px;font-size:12.3px;line-height:14.76px;letter-spacing:0.25px;color:#262626;-webkit-text-stroke:0.3px #262626;">1.218]</div>
<div class="t" style="right:505.85px;top:305.66px;font-size:12.3px;line-height:14.76px;letter-spacing:0.25px;color:#262626;-webkit-text-stroke:0.3px #262626;">1.372</div>
<div class="t" style="right:445.25px;top:305.66px;font-size:12.3px;line-height:14.76px;letter-spacing:0.25px;color:#262626;-webkit-text-stroke:0.3px #262626;">[1.162-</div>
<div class="t" style="right:445.25px;top:321.86px;font-size:12.3px;line-height:14.76px;letter-spacing:0.25px;color:#262626;-webkit-text-stroke:0.3px #262626;">1.167]</div>
<div class="t" style="right:384.65px;top:305.66px;font-size:12.3px;line-height:14.76px;letter-spacing:0.25px;color:#262626;-webkit-text-stroke:0.3px #262626;">1.204</div>
<div class="t" style="right:324.05px;top:305.66px;font-size:12.3px;line-height:14.76px;letter-spacing:0.25px;color:#262626;-webkit-text-stroke:0.3px #262626;">[1.191-</div>
<div class="t" style="right:324.05px;top:321.86px;font-size:12.3px;line-height:14.76px;letter-spacing:0.25px;color:#262626;-webkit-text-stroke:0.3px #262626;">1.196]</div>
<div class="t" style="right:263.45px;top:305.66px;font-size:12.3px;line-height:14.76px;letter-spacing:0.25px;color:#262626;-webkit-text-stroke:0.3px #262626;">[962-</div>
<div class="t" style="right:263.70px;top:321.86px;font-size:12.3px;line-height:14.76px;letter-spacing:0px;color:#262626;-webkit-text-stroke:0.3px #262626;">967]</div>
<div class="t" style="right:202.85px;top:305.66px;font-size:12.3px;line-height:14.76px;letter-spacing:0.25px;color:#262626;-webkit-text-stroke:0.3px #262626;">[1.166-</div>
<div class="t" style="right:202.85px;top:321.86px;font-size:12.3px;line-height:14.76px;letter-spacing:0.25px;color:#262626;-webkit-text-stroke:0.3px #262626;">1.171]</div>
<div class="t" style="right:142.25px;top:305.66px;font-size:12.3px;line-height:14.76px;letter-spacing:0.25px;color:#262626;-webkit-text-stroke:0.3px #262626;">[1.373-</div>
<div class="t" style="right:142.25px;top:321.86px;font-size:12.3px;line-height:14.76px;letter-spacing:0.25px;color:#262626;-webkit-text-stroke:0.3px #262626;">1.378]</div>
<div class="t" style="right:81.65px;top:305.66px;font-size:12.3px;line-height:14.76px;letter-spacing:0.25px;color:#262626;-webkit-text-stroke:0.3px #262626;">[1.247-</div>
<div class="t" style="right:81.65px;top:321.86px;font-size:12.3px;line-height:14.76px;letter-spacing:0.25px;color:#262626;-webkit-text-stroke:0.3px #262626;">1.252]</div>
<div class="t" style="right:21.05px;top:305.66px;font-size:12.3px;line-height:14.76px;letter-spacing:0.25px;color:#262626;-webkit-text-stroke:0.3px #262626;">[1.140-</div>
<div class="t" style="right:21.05px;top:321.86px;font-size:12.3px;line-height:14.76px;letter-spacing:0.25px;color:#262626;-webkit-text-stroke:0.3px #262626;">1.145]</div>
<div class="b" style="left:148.2px;top:381px;width:182.39999999999998px;height:22px;background:#dae3f3"></div>
<div class="b" style="left:148.2px;top:424.5px;width:182.39999999999998px;height:21.5px;background:#dae3f3"></div>
<div class="b" style="left:148.2px;top:468px;width:182.39999999999998px;height:34px;background:#dae3f3"></div>
<div class="b" style="left:148px;top:381px;width:1px;height:122px;background:#b3c6e8"></div>
<div class="b" style="left:147px;top:381px;width:1px;height:122px;background:rgba(120,150,215,0.18)"></div>
<div class="b" style="left:209px;top:381px;width:1px;height:122px;background:#b3c6e8"></div>
<div class="b" style="left:208px;top:381px;width:1px;height:122px;background:rgba(120,150,215,0.18)"></div>
<div class="b" style="left:270px;top:381px;width:1px;height:122px;background:#b3c6e8"></div>
<div class="b" style="left:269px;top:381px;width:1px;height:122px;background:rgba(120,150,215,0.18)"></div>
<div class="b" style="left:331px;top:381px;width:1px;height:122px;background:#b3c6e8"></div>
<div class="b" style="left:330px;top:381px;width:1px;height:122px;background:rgba(120,150,215,0.18)"></div>
<div class="b" style="left:8px;top:381px;width:323.59999999999997px;height:1px;background:#b9cbec"></div>
<div class="b" style="left:148.2px;top:403px;width:183.39999999999998px;height:1px;background:#b9cbec"></div>
<div class="b" style="left:148.2px;top:402px;width:183.39999999999998px;height:1px;background:rgba(120,150,215,0.15)"></div>
<div class="b" style="left:148.2px;top:424.5px;width:183.39999999999998px;height:1px;background:#b9cbec"></div>
<div class="b" style="left:148.2px;top:423.5px;width:183.39999999999998px;height:1px;background:rgba(120,150,215,0.15)"></div>
<div class="b" style="left:148.2px;top:446px;width:183.39999999999998px;height:1px;background:#b9cbec"></div>
<div class="b" style="left:148.2px;top:445px;width:183.39999999999998px;height:1px;background:rgba(120,150,215,0.15)"></div>
<div class="b" style="left:148.2px;top:468px;width:183.39999999999998px;height:1px;background:#b9cbec"></div>
<div class="b" style="left:148.2px;top:467px;width:183.39999999999998px;height:1px;background:rgba(120,150,215,0.15)"></div>
<div class="b" style="left:148.2px;top:502px;width:183.39999999999998px;height:1px;background:#b9cbec"></div>
<div class="b" style="left:148.2px;top:501px;width:183.39999999999998px;height:1px;background:rgba(120,150,215,0.15)"></div>
<div class="t" style="right:687.50px;top:359.86px;font-size:12.3px;line-height:14.76px;letter-spacing:0px;font-weight:bold;-webkit-text-stroke:0.25px #000;">jan-25</div>
<div class="t" style="right:626.70px;top:359.86px;font-size:12.3px;line-height:14.76px;letter-spacing:0px;font-weight:bold;-webkit-text-stroke:0.25px #000;">fév-25</div>
<div class="t" style="right:565.90px;top:359.86px;font-size:12.3px;line-height:14.76px;letter-spacing:0px;font-weight:bold;-webkit-text-stroke:0.25px #000;">mar-25</div>
<div class="t" style="left:15.8px;top:384.03px;font-size:11.8px;line-height:14.16px;letter-spacing:0px;font-weight:bold;-webkit-text-stroke:0.25px #000;transform:scaleX(0.975);transform-origin:0 0;">Renvois VDAB</div>
<div class="t" style="left:15.8px;top:406.03px;font-size:11.8px;line-height:14.16px;letter-spacing:0px;font-weight:bold;-webkit-text-stroke:0.25px #000;transform:scaleX(0.97);transform-origin:0 0;">Renvois FOREM</div>
<div class="t" style="left:15.8px;top:427.83px;font-size:11.8px;line-height:14.16px;letter-spacing:0px;font-weight:bold;-webkit-text-stroke:0.25px #000;transform:scaleX(0.946);transform-origin:0 0;">Renvois ACTIRIS</div>
<div class="t" style="left:15.8px;top:449.33px;font-size:11.8px;line-height:14.16px;letter-spacing:0px;font-weight:bold;-webkit-text-stroke:0.25px #000;transform:scaleX(0.974);transform-origin:0 0;">Renvois ADG</div>
<div class="t" style="left:15.8px;top:470.13px;font-size:11.8px;line-height:14.16px;letter-spacing:0px;font-weight:bold;-webkit-text-stroke:0.25px #000;transform:scaleX(0.985);transform-origin:0 0;">TOTAL</div>
<div class="t" style="right:687.50px;top:383.56px;font-size:12.3px;line-height:14.76px;letter-spacing:0px;color:#262626;-webkit-text-stroke:0.3px #262626;">872</div>
<div class="t" style="right:626.70px;top:383.56px;font-size:12.3px;line-height:14.76px;letter-spacing:0px;color:#262626;-webkit-text-stroke:0.3px #262626;">948</div>
<div class="t" style="right:565.90px;top:383.56px;font-size:12.3px;line-height:14.76px;letter-spacing:0px;color:#262626;-webkit-text-stroke:0.3px #262626;">874</div>
<div class="t" style="right:687.50px;top:405.56px;font-size:12.3px;line-height:14.76px;letter-spacing:0px;color:#262626;-webkit-text-stroke:0.3px #262626;">402</div>
<div class="t" style="right:626.70px;top:405.56px;font-size:12.3px;line-height:14.76px;letter-spacing:0px;color:#262626;-webkit-text-stroke:0.3px #262626;">426</div>
<div class="t" style="right:565.90px;top:405.56px;font-size:12.3px;line-height:14.76px;letter-spacing:0px;color:#262626;-webkit-text-stroke:0.3px #262626;">421</div>
<div class="t" style="right:687.50px;top:427.36px;font-size:12.3px;line-height:14.76px;letter-spacing:0px;color:#262626;-webkit-text-stroke:0.3px #262626;">95</div>
<div class="t" style="right:626.70px;top:427.36px;font-size:12.3px;line-height:14.76px;letter-spacing:0px;color:#262626;-webkit-text-stroke:0.3px #262626;">108</div>
<div class="t" style="right:565.90px;top:427.36px;font-size:12.3px;line-height:14.76px;letter-spacing:0px;color:#262626;-webkit-text-stroke:0.3px #262626;">112</div>
<div class="t" style="right:687.50px;top:448.86px;font-size:12.3px;line-height:14.76px;letter-spacing:0px;color:#262626;-webkit-text-stroke:0.3px #262626;">≤5</div>
<div class="t" style="right:626.70px;top:448.86px;font-size:12.3px;line-height:14.76px;letter-spacing:0px;color:#262626;-webkit-text-stroke:0.3px #262626;">8</div>
<div class="t" style="right:565.90px;top:448.86px;font-size:12.3px;line-height:14.76px;letter-spacing:0px;color:#262626;-webkit-text-stroke:0.3px #262626;">6</div>
<div class="t" style="right:687.25px;top:471.16px;font-size:12.3px;line-height:14.76px;letter-spacing:0.25px;color:#262626;-webkit-text-stroke:0.3px #262626;">[1.369-</div>
<div class="t" style="right:687.25px;top:487.26px;font-size:12.3px;line-height:14.76px;letter-spacing:0.25px;color:#262626;-webkit-text-stroke:0.3px #262626;">1.374]</div>
<div class="t" style="right:626.45px;top:471.16px;font-size:12.3px;line-height:14.76px;letter-spacing:0.25px;color:#262626;-webkit-text-stroke:0.3px #262626;">1.490</div>
<div class="t" style="right:565.65px;top:471.16px;font-size:12.3px;line-height:14.76px;letter-spacing:0.25px;color:#262626;-webkit-text-stroke:0.3px #262626;">1.413</div>
<div class="b" style="left:109px;top:542px;width:220px;height:1px;background:#5a5a5a"></div>
<div class="b" style="left:109px;top:541px;width:220px;height:1px;background:#d0d0d0"></div>
<div class="b" style="left:109px;top:543px;width:220px;height:1px;background:#d0d0d0"></div>
<div class="t f" style="left:109.4px;top:569.14px;font-size:12px;line-height:14.4px;white-space:nowrap;text-align:justify;text-align-last:justify;width:658.5px;letter-spacing:0.08px;padding-left:4.6px;width:653.9px;">La ventilation affichée donne lieu à de petits nombres. Conformément aux règles du RGDP relatives aux petits nombres,</div>
<div class="t f" style="left:109.4px;top:585.64px;font-size:12px;line-height:14.4px;white-space:nowrap;text-align:justify;text-align-last:justify;width:658.5px;letter-spacing:0.26px;">des chiffres concrets ne peuvent pas être mentionnés pour des répartitions de 5 cas ou moins. Dans ce cas, les petits</div>
<div class="t f" style="left:109.4px;top:602.14px;font-size:12px;line-height:14.4px;white-space:nowrap;text-align:justify;text-align-last:justify;width:658.5px;letter-spacing:0.24px;">nombres concernés sont indiqués comme étant inférieurs ou égal à 5. Le cas échéant, les sous-totaux sont également</div>
<div class="t f" style="left:109.4px;top:618.64px;font-size:12px;line-height:14.4px;letter-spacing:0.31px;">ajustés, et le total est indiqué comme une plage entre deux nombres plutôt qu'un nombre exact.</div>
<div class="b" style="left:754px;top:654px;width:4px;height:1px;background:#8a8a8a"></div>
<div class="b" style="left:761px;top:654px;width:4px;height:1px;background:#8a8a8a"></div>
</div></body></html>
